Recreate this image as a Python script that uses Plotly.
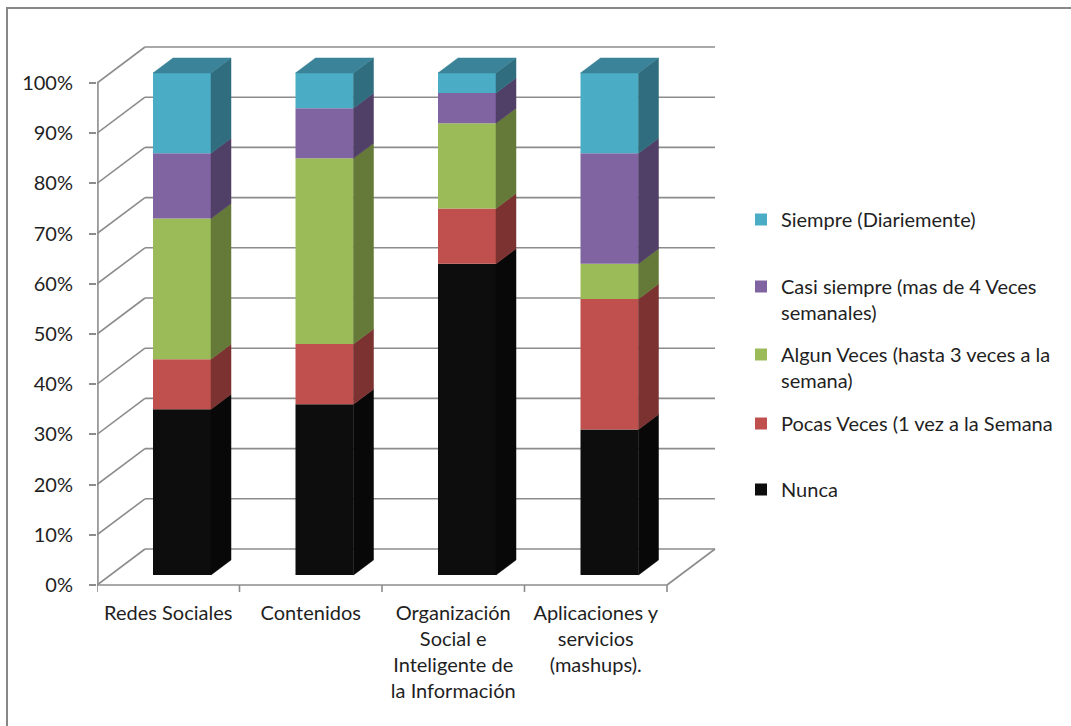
import plotly.graph_objects as go

# ---- data (percent of respondents per category) ----
categories = [
    "Redes Sociales",
    "Contenidos",
    "Organización<br>Social e<br>Inteligente de<br>la Información",
    "Aplicaciones y<br>servicios<br>(mashups).",
]
series_names = [
    "Nunca",
    "Pocas Veces (1 vez a la Semana",
    "Algun Veces (hasta 3 veces a la<br>semana)",
    "Casi siempre (mas de 4 Veces<br>semanales)",
    "Siempre (Diariemente)",
]
nunca = [33, 34, 62, 29]
pocas = [10, 12, 11, 26]
algun = [28, 37, 17, 7]
casi = [13, 10, 6, 22]
siempre = [16, 7, 4, 16]
y_ticks = [0, 10, 20, 30, 40, 50, 60, 70, 80, 90, 100]

series_values = [nunca, pocas, algun, casi, siempre]
front_colors = ["#0d0d0d", "#c0504d", "#9bbb59", "#8064a2", "#4bacc6"]
side_colors = ["#080808", "#7b3230", "#657a38", "#503f66", "#306e7f"]
top_color = "#3b8398"

# ---- page / plot-area geometry (pixels) ----
W, H = 1071, 726
PL, PR, PT, PB = 97, 716, 44, 592
PX_PER_CAT = 142.5          # horizontal pixels per category
PX_PER_PCT = 5.02           # vertical pixels per percent
ZERO_Y_PX = 585             # pixel row of 0 % on the front plane

x_lo = -0.5
x_hi = -0.5 + (PR - PL) / PX_PER_CAT
y_lo = -(PB - ZERO_Y_PX) / PX_PER_PCT
y_hi = (ZERO_Y_PX - PT) / PX_PER_PCT

# oblique projection offsets, expressed in data units
WALL_DX, WALL_DY = 48 / PX_PER_CAT, 36 / PX_PER_PCT
BAR_OFF_DX, BAR_OFF_DY = 13.75 / PX_PER_CAT, 10 / PX_PER_PCT
BAR_W = 58 / PX_PER_CAT
BAR_DX, BAR_DY = 20 / PX_PER_CAT, 15 / PX_PER_PCT


def paper_x(px):
    return (px - PL) / (PR - PL)


def paper_y(py):
    return (PB - py) / (PB - PT)


fig = go.Figure()

# ---- front faces of the stacked columns ----
n = len(categories)
cum = [0.0] * n
bases = []
for s, (name, vals) in enumerate(zip(series_names, series_values)):
    b = [cum[i] + BAR_OFF_DY for i in range(n)]
    bases.append(b)
    fig.add_trace(go.Bar(
        x=[i + BAR_OFF_DX for i in range(n)],
        y=vals,
        base=b,
        width=BAR_W,
        name=name,
        marker=dict(color=front_colors[s], line=dict(width=0)),
        legend="legend" if s == 4 else f"legend{5 - s}",
        hoverinfo="skip",
    ))
    cum = [cum[i] + vals[i] for i in range(n)]

# ---- right-hand side faces ----
for s, vals in enumerate(series_values):
    xs, ys = [], []
    for i in range(n):
        xr = i + BAR_OFF_DX + BAR_W / 2
        b = bases[s][i]
        t = b + vals[i]
        xs += [xr, xr + BAR_DX, xr + BAR_DX, xr, xr, None]
        ys += [b, b + BAR_DY, t + BAR_DY, t, b, None]
    fig.add_trace(go.Scatter(
        x=xs, y=ys, mode="lines", fill="toself",
        fillcolor=side_colors[s], line=dict(width=0.5, color=side_colors[s]),
        showlegend=False, hoverinfo="skip",
    ))

# ---- top faces ----
xs, ys = [], []
for i in range(n):
    xl = i + BAR_OFF_DX - BAR_W / 2
    xr = xl + BAR_W
    t = cum[i] + BAR_OFF_DY
    xs += [xl, xr, xr + BAR_DX, xl + BAR_DX, xl, None]
    ys += [t, t, t + BAR_DY, t + BAR_DY, t, None]
fig.add_trace(go.Scatter(
    x=xs, y=ys, mode="lines", fill="toself",
    fillcolor=top_color, line=dict(width=0.5, color=top_color),
    showlegend=False, hoverinfo="skip",
))

# ---- walls, floor and gridlines ----
grid = dict(color="#8c8c8c", width=1.6)
shapes = []
for v in y_ticks:
    # diagonal on the side wall
    shapes.append(dict(type="line", xref="x", yref="y", layer="below",
                       x0=-0.5, y0=v, x1=-0.5 + WALL_DX, y1=v + WALL_DY, line=grid))
    # horizontal on the back wall
    shapes.append(dict(type="line", xref="x", yref="y", layer="below",
                       x0=-0.5 + WALL_DX, y0=v + WALL_DY, x1=n - 0.5 + WALL_DX,
                       y1=v + WALL_DY, line=grid))
# floor front edge and right edge
shapes.append(dict(type="line", xref="x", yref="y", layer="below",
                   x0=-0.5, y0=0, x1=n - 0.5, y1=0, line=grid))
shapes.append(dict(type="line", xref="x", yref="y", layer="below",
                   x0=n - 0.5, y0=0, x1=n - 0.5 + WALL_DX, y1=WALL_DY, line=grid))
# value axis line
shapes.append(dict(type="line", xref="paper", yref="y", layer="below",
                   x0=0.0015, y0=0, x1=0.0015, y1=100, line=grid))
# category boundary ticks
for k in range(n + 1):
    shapes.append(dict(type="line", xref="x", yref="y", layer="below",
                       x0=k - 0.5, y0=0, x1=k - 0.5, y1=y_lo, line=grid))
# chart frame
shapes.append(dict(type="rect", xref="paper", yref="paper", layer="below",
                   x0=paper_x(7), y0=paper_y(H + 20), x1=paper_x(W + 20), y1=paper_y(8),
                   line=dict(color="#878787", width=2), fillcolor="rgba(0,0,0,0)"))

FONT = dict(family="Lato, 'Open Sans', sans-serif", size=20, color="#1f1f1f")

# ---- one legend box per series, stacked at the right ----
legend_rows = [200, 267, 335, 404, 470]   # top pixel row of each entry (Siempre → Nunca)
legend_keys = ["legend", "legend2", "legend3", "legend4", "legend5"]
layout_legends = {}
for key, row in zip(legend_keys, legend_rows):
    layout_legends[key] = dict(
        x=paper_x(741), y=paper_y(row), xanchor="left", yanchor="top",
        bgcolor="rgba(0,0,0,0)", borderwidth=0, font=FONT, valign="top",
        itemclick=False, itemdoubleclick=False,
    )

fig.update_layout(
    width=W, height=H,
    margin=dict(l=PL, r=W - PR, t=PT, b=H - PB, pad=0),
    paper_bgcolor="white", plot_bgcolor="white",
    barmode="overlay",
    font=FONT,
    showlegend=True,
    xaxis=dict(
        range=[x_lo, x_hi], tickvals=list(range(n)), ticktext=categories,
        showgrid=False, zeroline=False, showline=False, ticks="",
        ticklabelstandoff=7, fixedrange=True,
    ),
    yaxis=dict(
        range=[y_lo, y_hi], tickvals=y_ticks,
        ticktext=[f"{v}%" for v in y_ticks],
        showgrid=False, zeroline=False, showline=False,
        ticks="outside", ticklen=7, tickcolor="#8c8c8c", tickwidth=1.6,
        ticklabelstandoff=12, fixedrange=True,
    ),
    shapes=shapes,
    **layout_legends,
)

fig.write_html("out.html")
